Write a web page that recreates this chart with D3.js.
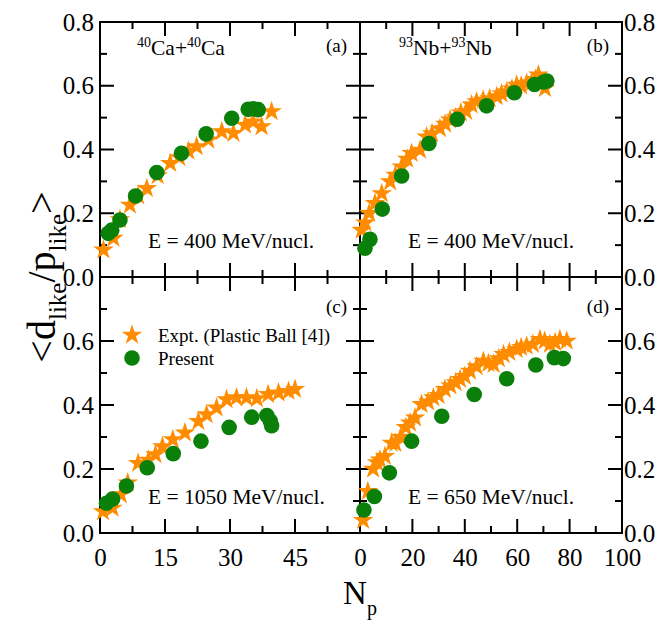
<!DOCTYPE html>
<html>
<head>
<meta charset="utf-8">
<script src="https://cdnjs.cloudflare.com/ajax/libs/d3/7.8.5/d3.min.js"></script>
<style>
  body { margin: 0; background: #fff; }
  text { font-family: "Liberation Serif", "Times New Roman", serif; fill: #000; }
</style>
</head>
<body>
<svg id="chart" width="663" height="620"></svg>
<script>
// ---- data ----
// (a) 40Ca+40Ca, E = 400 MeV/nucl.
const aStarN = [0.8, 3.1, 4.6, 6.9, 8.8, 10.8, 13.3, 16.2, 18.3, 20.4, 22.3, 25.0, 28.1, 30.8, 33.5, 35.3, 37.3, 39.6];
const aStarV = [0.085, 0.122, 0.18, 0.226, 0.255, 0.278, 0.318, 0.357, 0.375, 0.395, 0.409, 0.43, 0.456, 0.451, 0.477, 0.487, 0.472, 0.519];
const aCircN = [1.9, 2.7, 4.6, 8.2, 13.1, 18.8, 24.5, 30.4, 34.2, 35.4, 36.5];
const aCircV = [0.137, 0.147, 0.179, 0.254, 0.328, 0.388, 0.449, 0.498, 0.526, 0.528, 0.525];

// (b) 93Nb+93Nb, E = 400 MeV/nucl.
const bStarN = [0.6, 2.0, 3.5, 5.7, 8.3, 11.5, 13.5, 15.9, 18.0, 19.7, 22.9, 25.4, 27.5, 30.5, 32.5, 34.4, 36.5, 38.5, 40.5, 42.6, 44.5, 47.0, 49.5, 52.2, 54.0, 56.0, 58.0, 59.8, 61.5, 63.6, 65.5, 67.0, 68.1, 69.5, 70.6];
const bStarV = [0.147, 0.17, 0.2, 0.231, 0.262, 0.299, 0.32, 0.346, 0.37, 0.388, 0.398, 0.44, 0.45, 0.466, 0.48, 0.493, 0.5, 0.515, 0.52, 0.54, 0.55, 0.555, 0.56, 0.566, 0.575, 0.581, 0.59, 0.602, 0.6, 0.608, 0.61, 0.62, 0.634, 0.61, 0.592];
const bCircN = [1.9, 3.8, 8.5, 15.9, 26.3, 37.1, 48.3, 58.9, 66.6, 70.2, 71.3];
const bCircV = [0.09, 0.118, 0.213, 0.317, 0.419, 0.495, 0.537, 0.578, 0.604, 0.612, 0.615];

// (c) 40Ca+40Ca, E = 1050 MeV/nucl.
const cStarN = [0.7, 2.9, 4.8, 6.4, 8.8, 11.2, 12.8, 14.4, 16.8, 19.6, 22.7, 24.6, 26.9, 29.2, 31.5, 33.8, 36.2, 38.8, 41.2, 43.5, 45.0];
const cStarV = [0.067, 0.078, 0.12, 0.157, 0.218, 0.228, 0.245, 0.27, 0.292, 0.313, 0.349, 0.37, 0.391, 0.417, 0.423, 0.423, 0.42, 0.433, 0.438, 0.443, 0.449];
const cCircN = [1.5, 2.9, 6.1, 10.9, 16.9, 23.3, 29.8, 35.0, 38.5, 39.3, 39.6];
const cCircV = [0.093, 0.106, 0.147, 0.204, 0.248, 0.287, 0.33, 0.362, 0.367, 0.35, 0.335];

// (d) 93Nb+93Nb, E = 650 MeV/nucl.
const dStarN = [1.2, 3.0, 5.0, 6.5, 7.6, 9.5, 12.1, 13.5, 15.5, 17.5, 19.1, 21.0, 23.5, 26.0, 28.0, 30.0, 32.4, 34.5, 36.5, 38.2, 40.0, 42.0, 44.5, 47.1, 49.0, 51.0, 53.0, 54.8, 57.0, 59.8, 61.5, 63.6, 66.0, 68.7, 70.5, 72.5, 74.5, 76.3, 78.9];
const dStarV = [0.04, 0.13, 0.2, 0.22, 0.229, 0.24, 0.281, 0.28, 0.3, 0.33, 0.344, 0.36, 0.402, 0.41, 0.423, 0.43, 0.449, 0.46, 0.47, 0.48, 0.49, 0.506, 0.52, 0.537, 0.53, 0.527, 0.545, 0.558, 0.565, 0.574, 0.58, 0.584, 0.59, 0.605, 0.6, 0.59, 0.595, 0.605, 0.6];
const dCircN = [1.5, 5.5, 11.2, 19.7, 31.2, 43.6, 56.0, 67.1, 74.2, 77.6];
const dCircV = [0.072, 0.114, 0.188, 0.287, 0.365, 0.433, 0.482, 0.525, 0.548, 0.545];

// tick labels
const yLabelsTop = [0, 0.2, 0.4, 0.6, 0.8];
const yLabelsBottom = [0, 0.2, 0.4, 0.6];
const xLabelsLeft = [0, 15, 30, 45];
const xLabelsRight = [0, 20, 40, 60, 80, 100];

const starColor = '#ff8c00';
const circColor = '#0a800a';

const svg = d3.select('#chart');

// ---- scales ----
const xLeft = d3.scaleLinear().domain([0, 60]).range([100, 360]);
const xRight = d3.scaleLinear().domain([0, 100]).range([360, 622]);
const yTop = d3.scaleLinear().domain([0, 0.8]).range([277, 22]);
const yBottom = d3.scaleLinear().domain([0, 0.8]).range([533, 277]);

const panels = [
    { x: xLeft, y: yTop, sN: aStarN, sV: aStarV, cN: aCircN, cV: aCircV, xStep: 7.5, tag: '(a)', E: 'E = 400 MeV/nucl.', sys: 'Ca', A: '40' },
    { x: xRight, y: yTop, sN: bStarN, sV: bStarV, cN: bCircN, cV: bCircV, xStep: 10, tag: '(b)', E: 'E = 400 MeV/nucl.', sys: 'Nb', A: '93' },
    { x: xLeft, y: yBottom, sN: cStarN, sV: cStarV, cN: cCircN, cV: cCircV, xStep: 7.5, tag: '(c)', E: 'E = 1050 MeV/nucl.' },
    { x: xRight, y: yBottom, sN: dStarN, sV: dStarV, cN: dCircN, cV: dCircV, xStep: 10, tag: '(d)', E: 'E = 650 MeV/nucl.' }
];

const star = d3.symbol().type(d3.symbolStar).size(130);

function ticksOf(domain, step) {
    return d3.range(0, Math.round(domain[1] / step) + 1).map(i => i * step).filter(v => v > domain[0] && v < domain[1]);
}

panels.forEach((p, i) => {
    const g = svg.append('g');
    const [x0, x1] = p.x.range();
    const [y0, y1] = p.y.range(); // y0 bottom, y1 top
    const xd = p.x.domain();

    // ticks (inward, major + minor on all four sides)
    const xt = ticksOf(xd, p.xStep);
    const yt = ticksOf([0, 0.8], 0.1);
    xt.forEach((v, k) => {
        const len = (k % 2 === 1) ? 14 : 7;
        const px = p.x(v);
        g.append('line').attr('x1', px).attr('x2', px).attr('y1', y0).attr('y2', y0 - len);
        g.append('line').attr('x1', px).attr('x2', px).attr('y1', y1).attr('y2', y1 + len);
    });
    yt.forEach((v, k) => {
        const len = (k % 2 === 1) ? 14 : 7;
        const py = p.y(v);
        g.append('line').attr('x1', x0).attr('x2', x0 + len).attr('y1', py).attr('y2', py);
        g.append('line').attr('x1', x1).attr('x2', x1 - len).attr('y1', py).attr('y2', py);
    });
    g.selectAll('line').attr('stroke', '#000').attr('stroke-width', 2);

    // frame
    g.append('rect')
        .attr('x', x0).attr('y', y1)
        .attr('width', x1 - x0).attr('height', y0 - y1)
        .attr('fill', 'none').attr('stroke', '#000').attr('stroke-width', 2);

    // marks: stars under circles
    g.append('g').selectAll('path')
        .data(d3.zip(p.sN, p.sV))
        .join('path')
        .attr('d', star)
        .attr('transform', d => `translate(${p.x(d[0])},${p.y(d[1])})`)
        .attr('fill', starColor);

    g.append('g').selectAll('circle')
        .data(d3.zip(p.cN, p.cV))
        .join('circle')
        .attr('cx', d => p.x(d[0]))
        .attr('cy', d => p.y(d[1]))
        .attr('r', 7.8)
        .attr('fill', circColor);

    // panel texts
    const top = i < 2;
    g.append('text')
        .attr('x', x1 - 13).attr('y', top ? 52 : 313)
        .attr('text-anchor', 'end')
        .style('font-size', '19px')
        .text(p.tag);

    g.append('text')
        .attr('x', x0 + 48)
        .attr('y', top ? 248 : 504)
        .style('font-size', '21.5px')
        .text(p.E);

    if (p.sys) {
        const t = g.append('text')
            .attr('x', x0 + (i === 0 ? 37 : 39))
            .attr('y', 55)
            .style('font-size', '21.5px');
        t.append('tspan').attr('dy', -8).style('font-size', '14px').text(p.A);
        t.append('tspan').attr('dy', 8).text(p.sys + '+');
        t.append('tspan').attr('dy', -8).style('font-size', '14px').text(p.A);
        t.append('tspan').attr('dy', 8).text(p.sys);
    }
});

// ---- tick labels via d3 axes (ticks hidden, labels only) ----
function labelAxis(axis, transform) {
    const g = svg.append('g').attr('transform', transform).call(axis);
    g.select('.domain').remove();
    g.selectAll('.tick line').remove();
    g.attr('font-family', null).attr('font-size', null);
    g.selectAll('text').style('font-size', '25px');
    return g;
}
const fmt = d3.format('.1f');
labelAxis(d3.axisLeft(yTop).tickValues(yLabelsTop).tickFormat(fmt).tickSize(0).tickPadding(6), 'translate(100,0)');
labelAxis(d3.axisLeft(yBottom).tickValues(yLabelsBottom).tickFormat(fmt).tickSize(0).tickPadding(6), 'translate(100,0)');
labelAxis(d3.axisRight(yTop).tickValues(yLabelsTop).tickFormat(fmt).tickSize(0).tickPadding(2), 'translate(622,0)');
labelAxis(d3.axisRight(yBottom).tickValues(yLabelsBottom).tickFormat(fmt).tickSize(0).tickPadding(2), 'translate(622,0)');
labelAxis(d3.axisBottom(xLeft).tickValues(xLabelsLeft).tickFormat(d3.format('d')).tickSize(0).tickPadding(15), 'translate(0,533)');
labelAxis(d3.axisBottom(xRight).tickValues(xLabelsRight).tickFormat(d3.format('d')).tickSize(0).tickPadding(15), 'translate(0,533)');

// ---- legend in panel (c) ----
const leg = svg.append('g');
leg.append('path').attr('d', star).attr('transform', 'translate(132,335)').attr('fill', starColor);
leg.append('circle').attr('cx', 132).attr('cy', 358).attr('r', 7.8).attr('fill', circColor);
leg.append('text').attr('x', 158).attr('y', 342).style('font-size', '19px').text('Expt. (Plastic Ball [4])');
leg.append('text').attr('x', 158).attr('y', 365).style('font-size', '19px').text('Present');

// ---- axis titles ----
const xt = svg.append('text').attr('x', 360).attr('y', 604).attr('text-anchor', 'middle').style('font-size', '33px');
xt.append('tspan').text('N');
xt.append('tspan').attr('dy', 11).style('font-size', '20px').text('p');

const yl = svg.append('text')
    .attr('transform', 'translate(55,277) rotate(-90)')
    .attr('text-anchor', 'middle')
    .style('font-size', '40px');
yl.append('tspan').text('<d');
yl.append('tspan').attr('dy', 11).style('font-size', '25px').text('like');
yl.append('tspan').attr('dy', -11).text('/p');
yl.append('tspan').attr('dy', 11).style('font-size', '25px').text('like');
yl.append('tspan').attr('dy', -11).text('>');
</script>
</body>
</html>
